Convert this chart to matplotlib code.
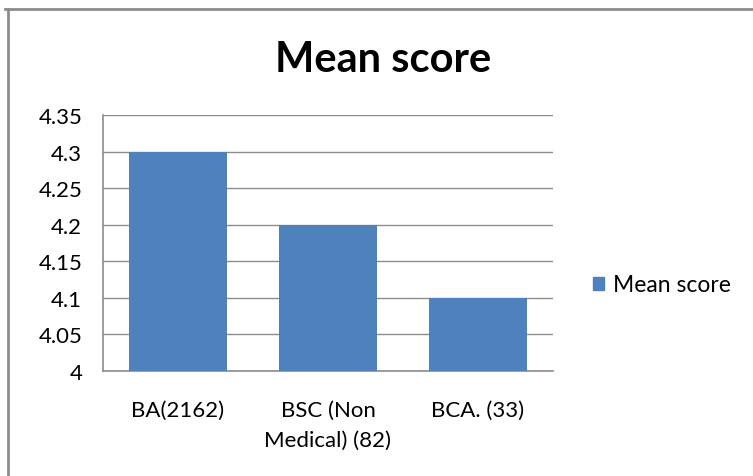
import matplotlib
matplotlib.use("Agg")
import matplotlib.pyplot as plt
from matplotlib.lines import Line2D

categories = ["BA(2162)", "BSC (Non\nMedical) (82)", "BCA. (33)"]
values = [4.3, 4.2, 4.1]
series_name = "Mean score"
yticks = [4.0, 4.05, 4.1, 4.15, 4.2, 4.25, 4.3, 4.35]
ytick_labels = ["4", "4.05", "4.1", "4.15", "4.2", "4.25", "4.3", "4.35"]

plt.rcParams['font.family'] = ['Lato', 'DejaVu Sans']

fig = plt.figure(figsize=(7.53, 4.77), dpi=100)
ax = fig.add_axes([103/753, 1-372/477, 450/753, 256/477])

x = list(range(len(categories)))
ax.bar(x, values, width=0.65, color="#4F81BD", label=series_name, zorder=3)
ax.set_xlim(-0.5, len(categories)-0.5)
ax.set_ylim(4.0, 4.35)
ax.set_yticks(yticks)
ax.set_yticklabels(ytick_labels)
ax.set_xticks(x)
ax.set_xticklabels(categories, linespacing=1.6)
ax.tick_params(axis='y', length=0, pad=15, labelsize=16)
ax.tick_params(axis='x', length=0, pad=21, labelsize=16)
ax.grid(axis='y', color="#8c8c8c", linewidth=1.0, zorder=0)
for s in ['top', 'right']:
    ax.spines[s].set_visible(False)
for s in ['left', 'bottom']:
    ax.spines[s].set_color("#8c8c8c")
    ax.spines[s].set_linewidth(1.2)

fig.text(383/753, 1-60/477, "Mean score", ha='center', va='center', fontsize=30, fontweight='bold')

leg = fig.legend(handles=[plt.Rectangle((0, 0), 1, 1, color="#4F81BD")], labels=[series_name],
                 loc='center left', bbox_to_anchor=(572/753, 1-286/477), frameon=False,
                 fontsize=16.5, handlelength=0.5, handleheight=0.5, handletextpad=0.4)

fig.add_artist(Line2D([5/753, 1.0], [1-10/477, 1-10/477], transform=fig.transFigure, color="#8c8c8c", linewidth=2))
fig.add_artist(Line2D([8/753, 8/753], [0, 1-10/477], transform=fig.transFigure, color="#8c8c8c", linewidth=2))

fig.savefig("out.png", dpi=100)
